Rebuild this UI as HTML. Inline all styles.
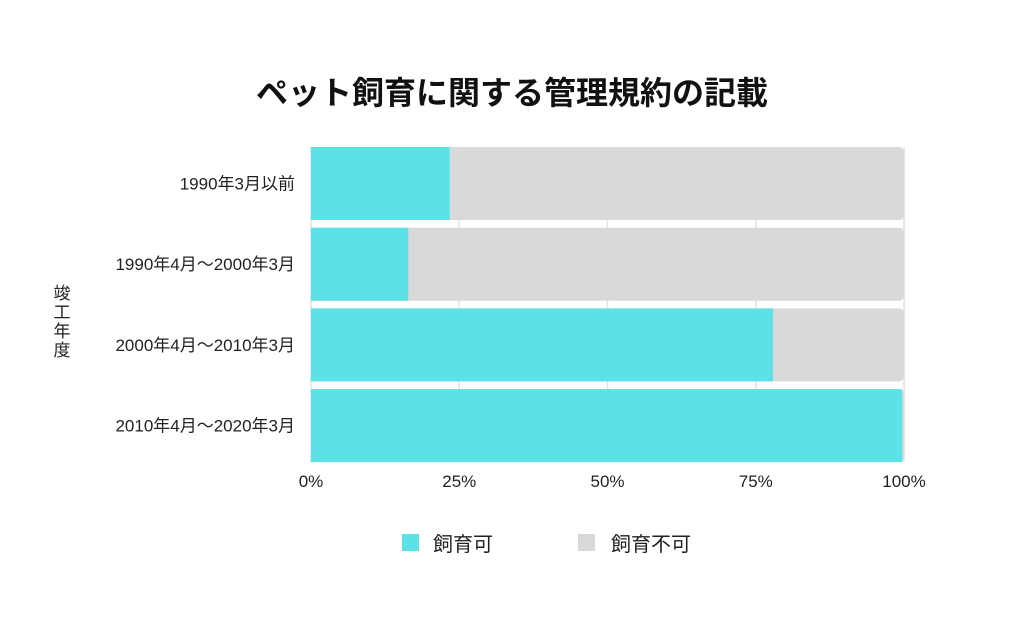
<!DOCTYPE html>
<html><head><meta charset="utf-8">
<style>
body{margin:0;background:#fff;width:1024px;height:630px;overflow:hidden;font-family:"Liberation Sans","Noto Sans CJK JP",sans-serif;}
svg text{font-family:"Liberation Sans","Noto Sans CJK JP",sans-serif;}
</style></head><body>
<svg id="chart" width="1024" height="630" xmlns="http://www.w3.org/2000/svg">
<text x="512" y="104" text-anchor="middle" font-size="32" font-weight="bold" fill="#111">ペット飼育に関する管理規約の記載</text>
<text x="62" y="299" text-anchor="middle" font-size="17" fill="#222"><tspan x="62" dy="0">竣</tspan><tspan x="62" dy="19">工</tspan><tspan x="62" dy="19">年</tspan><tspan x="62" dy="19">度</tspan></text>
<g id="grid"></g><g id="bars"></g><g id="labels"></g>
<g>
<rect x="402" y="534" width="17" height="17" fill="#5ce1e6"/>
<text x="433" y="551" font-size="20" fill="#222">飼育可</text>
<rect x="578" y="534" width="17" height="17" fill="#d9d9d9"/>
<text x="611" y="551" font-size="20" fill="#222">飼育不可</text>
</g>
</svg>
<script>
const categories=["1990年3月以前","1990年4月〜2000年3月","2000年4月〜2010年3月","2010年4月〜2020年3月"];
const allowed=[23.4,16.4,77.9,99.7];
const ticks=[0,25,50,75,100];
const tickLabels=["0%","25%","50%","75%","100%"];
const NS="http://www.w3.org/2000/svg";
const xLeft=311,xRight=904,yTop=147,band=80.7,bh=73;
const xs=v=>xLeft+(xRight-xLeft)*v/100;
const ys=i=>yTop+i*band;
function mk(t,a,p){const e=document.createElementNS(NS,t);for(const k in a)e.setAttribute(k,a[k]);p.appendChild(e);return e;}
const g=document.getElementById('grid'),b=document.getElementById('bars'),l=document.getElementById('labels');
ticks.forEach((t,i)=>{
 const ln=mk('line',{x1:xs(t),x2:xs(t),y1:yTop,y2:ys(3)+bh,stroke:'#e2e2e2','stroke-width':1.5},g);
 
 
 const tx=mk('text',{x:xs(t),y:487,'text-anchor':'middle','font-size':17,fill:'#222'},l);
 tx.textContent=tickLabels[i];
 
 
});
categories.forEach((c,i)=>{
 const bg=mk('rect',{x:xs(0),y:ys(i),width:xs(100)-xs(0),height:bh,rx:5,fill:'#d9d9d9'},b);
 
 
 const fg=mk('rect',{x:xs(0),y:ys(i),width:xs(allowed[i])-xs(0),height:bh,fill:'#5ce1e6'},b);
 
 
 const tx=mk('text',{x:295,y:ys(i)+bh/2+6,'text-anchor':'end','font-size':17,fill:'#222'},l);
 tx.textContent=c;
 
 
});
</script>
</body></html>
